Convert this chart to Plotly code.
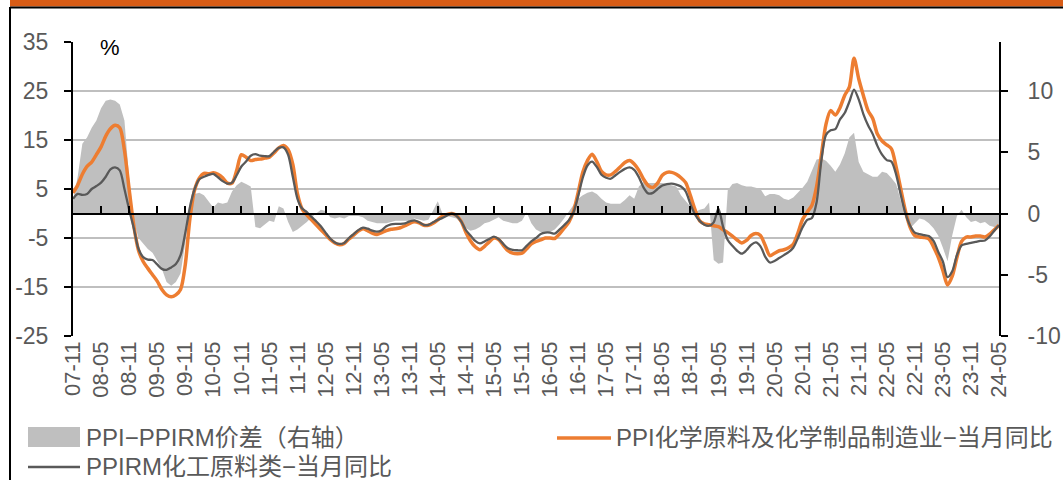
import plotly.graph_objects as go
import pandas as pd

# ---------------- data ----------------
months = [d.strftime("%y-%m") for d in pd.date_range("2007-11-01", "2024-05-01", freq="MS")]
tick_labels = months[::6]

# PPI-PPIRM spread (right axis), %
spread = [
    1.0, 3.0, 5.7, 6.2, 7.0, 7.6, 8.6, 9.2, 9.3, 9.2,
    8.9, 7.6, 2.9, -0.6, -2.0, -2.5, -2.9, -3.2, -3.8, -4.5,
    -5.6, -5.9, -5.6, -4.9, -2.4, 1.0, 1.6, 1.7, 1.5, 1.0,
    0.5, 0.9, 0.8, 0.9, 1.8, 2.3, 2.6, 2.4, 2.2, -1.1,
    -1.2, -0.9, -0.6, -0.7, 0.6, 0.4, -0.7, -1.5, -1.3, -1.0,
    -0.7, -0.3, 0.0, 0.3, 0.2, -0.3, -0.4, -0.3, -0.4, -0.2,
    -0.2, -0.2, -0.3, -0.6, -0.7, -0.8, -0.8, -0.8, -0.7, -0.6,
    -0.6, -0.6, -0.6, -0.4, -0.5, -0.6, -0.5, 0.2, 1.0, 0.0,
    -0.2, -0.3, -0.4, -0.8, -1.2, -1.4, -1.3, -1.1, -0.8, -0.7,
    -0.5, -0.3, -0.6, -0.7, -0.8, -0.8, -0.6, 0.1, -0.8, -1.3,
    -1.5, -1.6, -1.5, -1.3, -0.9, -0.4, 0.2, 0.7, 1.2, 1.5,
    1.7, 1.8, 1.6, 1.2, 0.9, 0.8, 0.8, 0.8, 1.1, 1.5,
    1.2, 2.2, 2.6, 2.5, 2.5, 2.5, 2.5, 2.4, 2.3, 2.2,
    1.5, 1.0, 0.6, 0.1, 0.3, 0.4, 0.9, -3.8, -4.1, -4.0,
    1.9, 2.4, 2.5, 2.3, 2.2, 2.2, 2.1, 2.0, 1.4, 1.6,
    1.6, 1.5, 1.2, 1.1, 1.3, 1.7, 2.1, 2.6, 3.5, 4.4,
    4.5, 4.3, 3.9, 3.4, 4.0, 4.9, 6.2, 6.6, 4.2, 3.4,
    3.2, 3.0, 3.0, 3.4, 3.3, 2.9, 2.4, 1.1, -0.3, -1.2,
    -0.8, -0.4, -0.5, -0.8, -1.2, -1.8, -2.8, -3.9, -1.8, -0.2,
    0.3, -0.3, -0.7, -0.6, -0.8, -0.7, -1.0, -1.1, -1.1,
]

# PPI chemical raw materials & chemical products manufacturing, YoY %
ppi_chem = [
    4.2, 5.8, 8.0, 9.6, 10.5, 12.0, 13.6, 15.8, 17.3, 18.0,
    17.5, 12.9, 5.0, -2.5, -7.5, -9.8, -11.2, -12.5, -13.8, -15.5,
    -16.6, -17.0, -16.6, -15.5, -10.5, -1.0, 4.8, 7.2, 8.2, 8.1,
    8.3, 8.0, 7.3, 6.2, 6.2, 8.8, 12.0, 11.5, 10.8, 11.0,
    11.1, 11.3, 11.5, 12.4, 13.4, 13.9, 13.0, 10.0, 4.0, 0.9,
    -0.3, -1.3, -2.3, -3.3, -4.3, -5.3, -6.0, -6.4, -6.1, -5.2,
    -4.4, -3.6, -3.1, -3.5, -4.0, -4.3, -3.9, -3.5, -3.2, -3.1,
    -2.9, -2.5, -2.0, -1.7, -1.9, -2.4, -2.4, -2.0, -1.3, -0.5,
    -0.2, 0.0, -0.4, -1.6, -3.8, -5.6, -6.8, -7.4, -6.7, -5.8,
    -5.0, -5.3, -6.5, -7.6, -8.1, -8.2, -8.1, -7.2, -6.2, -5.7,
    -5.4, -5.0, -5.0, -5.1, -4.2, -3.0, -1.8, 0.4, 4.2, 8.4,
    10.8, 12.1, 10.6, 8.6, 7.9, 7.9, 8.6, 9.5, 10.4, 10.8,
    10.1, 8.8, 7.0, 5.7, 5.3, 6.2, 7.8, 8.4, 8.4, 8.0,
    7.3, 6.3, 3.7, 0.8, -1.5, -2.1, -2.3, -2.5, -2.7, -3.3,
    -3.9, -4.6, -5.4, -6.0, -5.5, -4.5, -4.1, -4.5, -6.5, -8.6,
    -8.1, -7.6, -7.4, -7.0, -6.3, -4.0, -1.2, 0.3, 1.7, 5.5,
    11.8, 18.2, 21.0, 20.1, 21.6, 24.1, 25.8, 31.7, 27.5, 24.1,
    21.0, 19.4, 16.2, 14.8, 14.0, 13.2, 9.5, 5.0, 0.5, -2.8,
    -4.5, -4.8, -4.9, -5.2, -6.8, -8.9, -11.6, -14.6, -12.8, -9.0,
    -5.7, -4.8, -4.8, -4.6, -4.6, -4.8, -4.2, -3.3, -2.4,
]

# PPIRM chemical raw materials, YoY %
ppirm_chem = [
    3.0, 4.0, 3.8, 4.0, 5.0, 5.6, 6.3, 7.5, 9.0, 9.4,
    8.8, 5.0, 0.8, -3.0, -7.2, -8.9, -9.4, -9.5, -10.4, -11.3,
    -11.5, -11.0, -10.3, -8.5, -4.0, 1.3, 5.0, 7.0, 7.5, 7.9,
    8.1, 7.4, 6.6, 6.1, 6.3, 7.8, 9.6, 10.6, 11.8, 12.1,
    11.8, 11.7, 11.7, 12.6, 13.4, 13.5, 12.0, 7.5, 3.0, 1.0,
    0.3, -0.7, -1.6, -2.6, -3.9, -5.1, -5.9, -6.2, -6.0, -5.0,
    -4.2, -3.4, -2.9, -3.1, -3.5, -3.7, -3.4, -2.6, -2.2, -2.1,
    -2.1, -2.0, -1.6, -1.4, -1.8, -2.3, -2.3, -1.8, -1.3, -0.9,
    -0.4, 0.0, -0.5, -1.6, -3.4, -4.5, -5.6, -6.1, -5.7, -5.2,
    -4.7, -5.2, -6.2, -7.1, -7.4, -7.5, -7.5, -6.6, -5.7, -5.0,
    -4.2, -3.9, -3.9, -4.1, -3.3, -2.4, -1.4, 0.2, 3.5, 7.3,
    9.8, 10.6, 9.5, 7.9, 7.3, 7.1, 7.8, 8.5, 9.1, 9.4,
    8.9, 7.4, 5.3, 4.1, 4.2, 5.0, 5.7, 6.0, 6.1, 5.9,
    5.5, 4.5, 2.0, -0.2, -1.5, -2.3, -2.5, -1.8, 1.0, -2.7,
    -5.4, -6.6, -7.6, -8.2, -7.5, -6.4, -5.9, -6.7, -8.8, -10.0,
    -9.7, -9.1, -8.5, -7.9, -7.0, -5.0, -2.8, -1.3, -0.9, 2.3,
    10.7, 16.0, 17.0, 17.2, 19.2, 20.5, 22.8, 25.3, 23.3, 20.3,
    18.0, 16.2, 13.8, 12.0, 10.9, 10.6, 8.0, 3.8, 0.0, -2.5,
    -3.9, -4.2, -4.4, -4.6, -5.6, -7.8, -9.8, -13.0, -11.8, -8.5,
    -6.5, -6.2, -6.0, -5.8, -5.6, -5.5, -4.7, -3.5, -2.4,
]

assert len(months) == len(spread) == len(ppi_chem) == len(ppirm_chem) == 199

names = ["PPI−PPIRM价差（右轴）", "PPI化学原料及化学制品制造业−当月同比", "PPIRM化工原料类−当月同比"]
left_ticks = [-25, -15, -5, 5, 15, 25, 35]
right_ticks = [-10, -5, 0, 5, 10]

# ---------------- styles / layout geometry ----------------
W, H = 1063, 480
L, R, T, B = 73, 999, 42, 336
GRAY_AREA = "#BFBFBF"
ORANGE = "#ED7D31"
DARK = "#595959"
TXT = "#595959"
LAT = "Liberation Sans, Arial, sans-serif"
CJK = "Liberation Sans, Noto Sans CJK SC, sans-serif"


def xp(px):
    return (px - L) / (R - L)


def yp(py):
    return (B - py) / (B - T)


fig = go.Figure()
fig.add_trace(go.Scatter(
    x=months, y=spread, xaxis="x", yaxis="y", name=names[0],
    mode="lines", fill="tozeroy", fillcolor=GRAY_AREA,
    line=dict(width=0, color=GRAY_AREA), showlegend=False,
))
fig.add_trace(go.Scatter(
    x=months, y=ppi_chem, xaxis="x2", yaxis="y2", name=names[1],
    mode="lines", line=dict(color=ORANGE, width=3.5, shape="spline", smoothing=0.8),
    showlegend=False,
))
fig.add_trace(go.Scatter(
    x=months, y=ppirm_chem, xaxis="x2", yaxis="y2", name=names[2],
    mode="lines", line=dict(color=DARK, width=2.3, shape="spline", smoothing=0.8),
    showlegend=False,
))

tickfont = dict(family=LAT, size=23, color=TXT)

fig.update_layout(
    width=W, height=H,
    margin=dict(l=L, r=W - R, t=T, b=H - B, autoexpand=False),
    paper_bgcolor="white", plot_bgcolor="white",
    showlegend=False,
    xaxis=dict(
        type="category", range=[0, len(months) - 1], anchor="y",
        tickmode="array", tickvals=tick_labels, ticktext=tick_labels,
        tickangle=-90, tickfont=dict(family=LAT, size=22, color=TXT),
        ticks="", showline=False, showgrid=False, zeroline=False,
    ),
    xaxis2=dict(
        type="category", range=[0, len(months) - 1], overlaying="x",
        anchor="free", position=25 / 60, side="bottom",
        tickmode="array", tickvals=tick_labels, showticklabels=False,
        ticks="inside", ticklen=7, tickwidth=1.5, tickcolor="black",
        showline=True, linecolor="black", linewidth=2,
        showgrid=False, zeroline=False,
    ),
    yaxis=dict(
        range=[-10, 14], side="right", anchor="x",
        tickmode="array", tickvals=right_ticks, ticktext=[str(v) for v in right_ticks],
        tickfont=tickfont,
        ticks="outside", ticklen=7, tickwidth=1.5, tickcolor="black",
        showline=True, linecolor="black", linewidth=2,
        showgrid=False, zeroline=False, ticklabelstandoff=15,
    ),
    yaxis2=dict(
        range=[-25, 35], side="left", overlaying="y", anchor="x",
        tickmode="array", tickvals=left_ticks, ticktext=[str(v) for v in left_ticks],
        tickfont=tickfont,
        ticks="outside", ticklen=7, tickwidth=1.5, tickcolor="black",
        showline=True, linecolor="black", linewidth=2,
        showgrid=True, gridcolor=GRAY_AREA, gridwidth=1.5,
        zeroline=False, ticklabelstandoff=11,
    ),
)

shapes = [
    # orange header bar, black rule, left frame
    dict(type="rect", xref="paper", yref="paper", x0=xp(10), x1=xp(1070), y0=yp(6.5), y1=yp(-5),
         fillcolor="#D85C16", line=dict(width=0), layer="above"),
    dict(type="line", xref="paper", yref="paper", x0=xp(10), x1=xp(1070), y0=yp(7.5), y1=yp(7.5),
         line=dict(color="black", width=2)),
    dict(type="line", xref="paper", yref="paper", x0=xp(10), x1=xp(10), y0=yp(7), y1=yp(485),
         line=dict(color="black", width=2)),
    # legend swatches
    dict(type="rect", xref="paper", yref="paper", x0=xp(28), x1=xp(80), y0=yp(447), y1=yp(427),
         fillcolor=GRAY_AREA, line=dict(width=0)),
    dict(type="line", xref="paper", yref="paper", x0=xp(557), x1=xp(611), y0=yp(438), y1=yp(438),
         line=dict(color=ORANGE, width=3.5)),
    dict(type="line", xref="paper", yref="paper", x0=xp(28), x1=xp(80), y0=yp(467), y1=yp(467),
         line=dict(color=DARK, width=2.3)),
]

legfont = dict(family=CJK, size=24, color=TXT)
annotations = [
    dict(text="%", xref="paper", yref="paper", x=xp(110), y=yp(47), showarrow=False,
         xanchor="center", yanchor="middle", font=dict(family=LAT, size=22, color="black")),
    dict(text=names[0], xref="paper", yref="paper", x=xp(84), y=yp(437), showarrow=False,
         xanchor="left", yanchor="middle", font=legfont),
    dict(text=names[1], xref="paper", yref="paper", x=xp(614), y=yp(437), showarrow=False,
         xanchor="left", yanchor="middle", font=legfont),
    dict(text=names[2], xref="paper", yref="paper", x=xp(84), y=yp(466), showarrow=False,
         xanchor="left", yanchor="middle", font=legfont),
]
fig.update_layout(shapes=shapes, annotations=annotations)

fig.write_html(
    "out.html",
    config={"displayModeBar": False},
    post_script="document.body.style.margin='0px';document.body.style.overflow='hidden';",
)
